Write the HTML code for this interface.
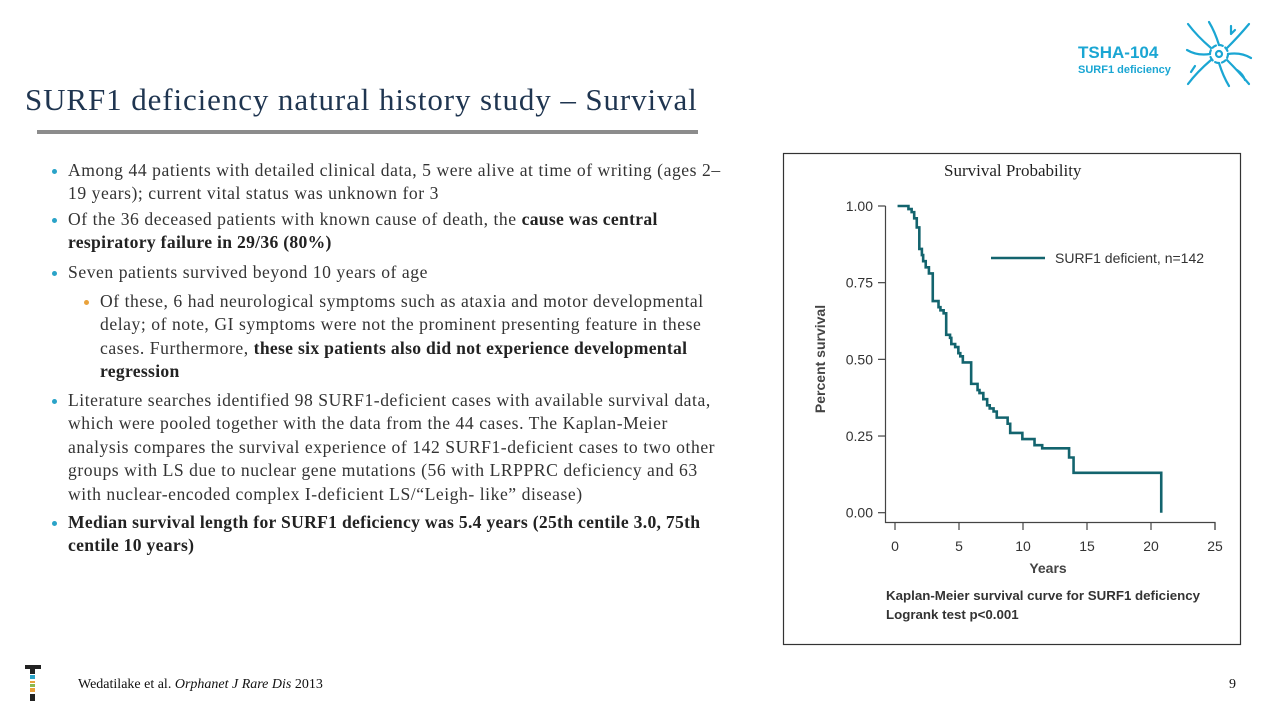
<!DOCTYPE html>
<html><head><meta charset="utf-8"><style>
body{margin:0;width:1280px;height:720px;background:#fff;position:relative;overflow:hidden;font-family:"Liberation Serif",serif;color:#333}
.t{position:absolute;white-space:nowrap}
#title{left:25px;top:82px;font-size:31px;letter-spacing:0.9px;color:#1f3550}
#rule{position:absolute;left:37px;top:130px;width:661px;height:4px;background:#8c8c8c}
.b{position:absolute;left:68px;font-size:17.6px;line-height:23.4px;letter-spacing:0.55px;white-space:nowrap;color:#333}
.b::before{content:"";position:absolute;left:-16px;top:10px;width:5px;height:5px;border-radius:50%;background:#2aa3c8}
.b.sub{left:100px}.b.sub::before{background:#e9a23b}
b{font-weight:bold;color:#222;letter-spacing:0.3px}
</style></head><body>
<div class="t" id="title">SURF1 deficiency natural history study – Survival</div>
<div id="rule"></div>
<div class="b" style="top:159px">Among 44 patients with detailed clinical data, 5 were alive at time of writing (ages 2–<br>19 years); current vital status was unknown for 3</div>
<div class="b" style="top:208px">Of the 36 deceased patients with known cause of death, the <b>cause was central<br>respiratory failure in 29/36 (80%)</b></div>
<div class="b" style="top:261px">Seven patients survived beyond 10 years of age</div>
<div class="b sub" style="top:290px">Of these, 6 had neurological symptoms such as ataxia and motor developmental<br>delay; of note, GI symptoms were not the prominent presenting feature in these<br>cases. Furthermore, <b>these six patients also did not experience developmental<br>regression</b></div>
<div class="b" style="top:389px">Literature searches identified 98 SURF1-deficient cases with available survival data,<br>which were pooled together with the data from the 44 cases. The Kaplan-Meier<br>analysis compares the survival experience of 142 SURF1-deficient cases to two other<br>groups with LS due to nuclear gene mutations (56 with LRPPRC deficiency and 63<br>with nuclear-encoded complex I-deficient LS/“Leigh- like” disease)</div>
<div class="b" style="top:511px"><b>Median survival length for SURF1 deficiency was 5.4 years (25th centile 3.0, 75th<br>centile 10 years)</b></div>

<div class="t" style="left:1078px;top:43px;font-family:'Liberation Sans',sans-serif;font-weight:bold;font-size:17px;color:#1aa6d3">TSHA-104</div>
<div class="t" style="left:1078px;top:64px;font-family:'Liberation Sans',sans-serif;font-weight:bold;font-size:11px;color:#1aa6d3">SURF1 deficiency</div>
<svg style="position:absolute;left:1185px;top:20px" width="68" height="68" viewBox="0 0 68 68" fill="none" stroke="#1aa6d3" stroke-width="2.2" stroke-linecap="round">
<circle cx="34" cy="34" r="3"/><circle cx="34" cy="34" r="9" stroke-dasharray="4 3"/>
<path d="M26 28 Q12 16 3 4M42 28 Q54 16 64 4M26 40 Q12 52 3 64M42 40 Q54 52 64 64M34 25 Q30 12 24 2M34 43 Q38 56 44 66M25 34 Q12 36 2 30M43 34 Q56 32 66 38M46 6 L46 14M50 10 L46 14M10 46 L6 52M52 50 Q58 54 60 60"/>
</svg>

<svg style="position:absolute;left:0;top:0" width="1280" height="720">
<rect x="783.5" y="153.5" width="457" height="491" fill="none" stroke="#333" stroke-width="1.2"/>
<g id="plot"></g>
</svg>
<div class="t" style="left:944px;top:161px;font-size:17px;color:#222">Survival Probability</div>

<svg style="position:absolute;left:25px;top:665px" width="16" height="42">
<rect x="0" y="0" width="16" height="4" fill="#222"/><rect x="5" y="0" width="5" height="9" fill="#222"/>
<rect x="5" y="10" width="5" height="4" fill="#2aa3c8"/><rect x="5" y="16" width="5" height="2" fill="#e9a23b"/><rect x="5" y="19" width="5" height="3" fill="#8cb84c"/><rect x="5" y="23" width="5" height="4" fill="#e9a23b"/><rect x="5" y="29" width="5" height="7" fill="#222"/>
</svg>
<div class="t" style="left:78px;top:677px;font-size:14px;color:#111">Wedatilake et al. <i>Orphanet J Rare Dis</i> 2013</div>
<div class="t" style="left:1229px;top:677px;font-size:14px;color:#111">9</div>

<script>
const times=[0.2,1.05,1.3,1.5,1.7,1.9,2.1,2.2,2.4,2.65,2.95,3.4,3.55,3.8,4.0,4.3,4.4,4.7,4.95,5.1,5.3,5.95,6.45,6.6,6.9,7.2,7.4,7.7,7.95,8.8,9.0,9.95,10.9,11.5,13.6,13.95,20.8];
const surv=[1.0,0.99,0.98,0.96,0.93,0.86,0.84,0.82,0.80,0.78,0.69,0.67,0.66,0.65,0.58,0.57,0.55,0.54,0.52,0.51,0.49,0.42,0.40,0.39,0.37,0.35,0.34,0.33,0.31,0.29,0.26,0.24,0.22,0.21,0.18,0.13,0.0];
const xTicks=[0,5,10,15,20,25];
const yTicks=[0,0.25,0.5,0.75,1.0];
const yTickLabels=["0.00","0.25","0.50","0.75","1.00"];
const X=v=>895+v*12.8, Y=v=>512.7-v*306.7;
const NS='http://www.w3.org/2000/svg', g=document.getElementById('plot');
function mk(t,a,txt){const e=document.createElementNS(NS,t);for(const k in a)e.setAttribute(k,a[k]);if(txt!=null)e.textContent=txt;g.appendChild(e);return e;}
const F='Liberation Sans, sans-serif';
let e=mk('path',{d:`M885.5 ${Y(1)} V522.5 H${X(25)} V530`,fill:'none',stroke:'#444','stroke-width':1.2});


xTicks.forEach(v=>{
 let t=mk('line',{x1:X(v),x2:X(v),y1:522.5,y2:530,stroke:'#444','stroke-width':1.2});
 
 
 let l=mk('text',{x:X(v),y:551,'text-anchor':'middle','font-family':F,'font-size':14,fill:'#333'},v);
 
 
});
yTicks.forEach((v,i)=>{
 let t=mk('line',{x1:878,x2:885.5,y1:Y(v),y2:Y(v),stroke:'#444','stroke-width':1.2});
 
 
 let l=mk('text',{x:873,y:Y(v)+5,'text-anchor':'end','font-family':F,'font-size':14,fill:'#333'},yTickLabels[i]);
 
 
});
let xt=mk('text',{x:1048,y:573,'text-anchor':'middle','font-family':F,'font-size':14,'font-weight':'bold',fill:'#444'},'Years');


let yt=mk('text',{x:0,y:0,transform:'translate(825,359) rotate(-90)','text-anchor':'middle','font-family':F,'font-size':14,'font-weight':'bold',fill:'#444'},'Percent survival');


let d=`M${X(times[0])} ${Y(surv[0])}`;
for(let i=1;i<times.length;i++){d+=` H${X(times[i])} V${Y(surv[i])}`;}
let p=mk('path',{d:d,fill:'none',stroke:'#13646e','stroke-width':2.6});


let ll=mk('line',{x1:991,x2:1045,y1:258,y2:258,stroke:'#13646e','stroke-width':2.6});


let lt=mk('text',{x:1055,y:263,'font-family':F,'font-size':14,fill:'#333'},'SURF1 deficient, n=142');


let c1=mk('text',{x:886,y:600,'font-family':F,'font-size':13.3,'font-weight':'bold',fill:'#333'},'Kaplan-Meier survival curve for SURF1 deficiency');


let c2=mk('text',{x:886,y:619,'font-family':F,'font-size':13.3,'font-weight':'bold',fill:'#333'},'Logrank test p<0.001');


</script>
</body></html>
